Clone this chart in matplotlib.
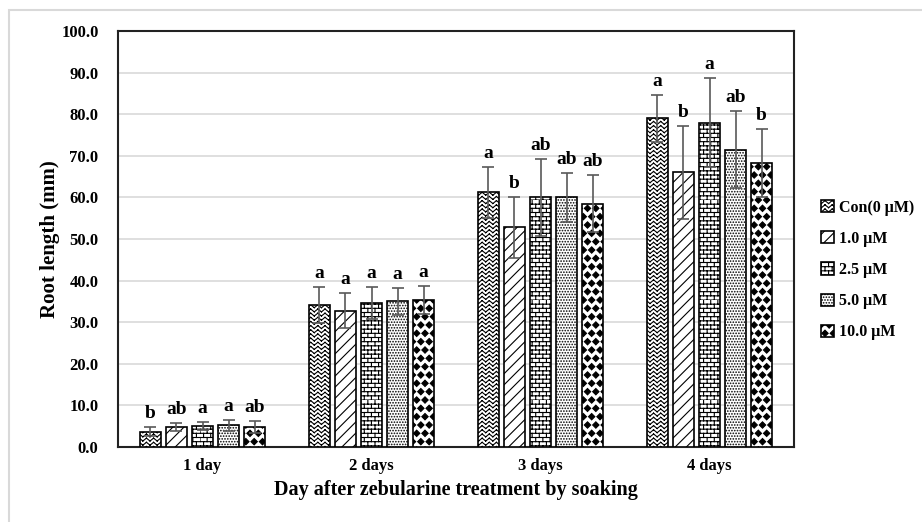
import matplotlib
matplotlib.use("Agg")
import matplotlib.pyplot as plt
import matplotlib.hatch as mhatch
from matplotlib.path import Path
import numpy as np
from matplotlib.patches import Rectangle

plt.rcParams['font.family'] = ['Liberation Serif', 'DejaVu Serif']
plt.rcParams['hatch.linewidth'] = 0.8

days = ["1 day", "2 days", "3 days", "4 days"]
series = ["Con(0 \u03bcM)", "1.0 \u03bcM", "2.5 \u03bcM", "5.0 \u03bcM", "10.0 \u03bcM"]
means = {
    "Con(0 \u03bcM)": [3.7, 34.2, 61.2, 79.0],
    "1.0 \u03bcM": [4.8, 32.8, 52.8, 66.0],
    "2.5 \u03bcM": [5.0, 34.6, 60.0, 78.0],
    "5.0 \u03bcM": [5.2, 35.0, 60.0, 71.5],
    "10.0 \u03bcM": [4.8, 35.3, 58.5, 68.2],
}
errors = {
    "Con(0 \u03bcM)": [1.0, 4.3, 6.2, 5.6],
    "1.0 \u03bcM": [0.9, 4.2, 7.3, 11.2],
    "2.5 \u03bcM": [1.0, 3.9, 9.2, 10.6],
    "5.0 \u03bcM": [1.3, 3.2, 5.8, 9.3],
    "10.0 \u03bcM": [1.5, 3.4, 6.8, 8.2],
}
letters = {
    "Con(0 \u03bcM)": ["b", "a", "a", "a"],
    "1.0 \u03bcM": ["ab", "a", "b", "b"],
    "2.5 \u03bcM": ["a", "a", "ab", "a"],
    "5.0 \u03bcM": ["a", "a", "ab", "ab"],
    "10.0 \u03bcM": ["ab", "a", "ab", "b"],
}


# ---- custom hatch patterns (Excel-like) ----
class ZigZagHatch(mhatch.HatchPatternBase):
    """'z': wavy horizontal lines drawn as separate segments."""
    def __init__(self, hatch, density):
        self.num_lines = int(hatch.count('z') * density)
        self.teeth = 14
        self.num_vertices = self.num_lines * self.teeth * 2 * 2

    def set_vertices_and_codes(self, vertices, codes):
        n, k = self.num_lines, self.teeth
        amp = 0.35 / n
        idx = 0
        for i in range(n):
            y = (i + 0.5) / n
            xs = np.linspace(0, 1, 2 * k + 1)
            ys = np.array([y + (amp if j % 2 else -amp) for j in range(2 * k + 1)])
            for j in range(2 * k):
                vertices[idx] = (xs[j], ys[j])
                vertices[idx + 1] = (xs[j + 1], ys[j + 1])
                codes[idx] = Path.MOVETO
                codes[idx + 1] = Path.LINETO
                idx += 2


class BrickHatch(mhatch.HatchPatternBase):
    """'b': horizontal bricks."""
    def __init__(self, hatch, density):
        n = int(hatch.count('b') * density)
        if n % 2:
            n += 1
        self.num_lines = n
        self.cols = max(1, int(round(n * 0.6)))
        self.num_vertices = (2 * n + 2 * n * self.cols) if n else 0

    def set_vertices_and_codes(self, vertices, codes):
        n, m = self.num_lines, self.cols
        idx = 0
        for i in range(n):
            y = i / n
            vertices[idx] = (0, y)
            vertices[idx + 1] = (1, y)
            codes[idx] = Path.MOVETO
            codes[idx + 1] = Path.LINETO
            idx += 2
        for i in range(n):
            y0, y1 = i / n, (i + 1) / n
            off = 0.5 * (i % 2)
            for j in range(m):
                xx = (j + off) / m
                vertices[idx] = (xx, y0)
                vertices[idx + 1] = (xx, y1)
                codes[idx] = Path.MOVETO
                codes[idx + 1] = Path.LINETO
                idx += 2


class FilledDiamonds(mhatch.Shapes):
    """'d': black filled diamonds."""
    filled = True
    size = 0.38

    def __init__(self, hatch, density):
        self.num_rows = int(hatch.count('d') * density)
        self.shape_vertices = np.array([[0, 1], [1, 0], [0, -1], [-1, 0], [0, 1]], float)
        self.shape_codes = np.array([Path.MOVETO, Path.LINETO, Path.LINETO,
                                     Path.LINETO, Path.CLOSEPOLY], dtype=Path.code_type)
        super().__init__(hatch, density)


mhatch._hatch_types.extend([ZigZagHatch, BrickHatch, FilledDiamonds])
mhatch._validate_hatch_pattern = lambda h: None

hatches = ["zzzz", "///", "bbbb", "......", "dd"]

fig = plt.figure(figsize=(9.22, 5.22), dpi=100)
fig.patches.append(Rectangle((9/922, -0.1), 1.2, (512/522) + 0.1, transform=fig.transFigure,
                             fill=False, edgecolor='#d9d9d9', linewidth=1.5))
ax = fig.add_axes([118/922, 1-447/522, 676/922, 416/522])

x = np.arange(len(days))
step = 0.154
width = 0.125
for i, s in enumerate(series):
    pos = x + (i - 2) * step
    ax.bar(pos, means[s], width, facecolor='white', edgecolor='black', hatch=hatches[i],
           linewidth=1.2, label=s, zorder=3)
    ax.errorbar(pos, means[s], yerr=errors[s], fmt='none', ecolor='#595959',
                elinewidth=1.2, capsize=4, capthick=1.2, zorder=4)
    for p, m, e, l in zip(pos, means[s], errors[s], letters[s]):
        ax.text(p, m + e + 1.2, l, ha='center', va='bottom', fontsize=14,
                fontweight='bold', zorder=5)

ax.set_xlim(-0.5, 3.5)
ax.set_ylim(0, 100)
ax.set_yticks(np.arange(0, 101, 10))
ax.set_yticklabels([f"{v:.1f}" for v in np.arange(0, 101, 10)], fontsize=12, fontweight='bold')
ax.set_xticks(x)
ax.set_xticklabels(days, fontsize=12, fontweight='bold')
ax.tick_params(axis='y', length=0, pad=14)
ax.tick_params(axis='x', length=0, pad=8)
ax.grid(axis='y', color='#d9d9d9', linewidth=1.2, zorder=0)
ax.set_axisbelow(True)
for sp in ax.spines.values():
    sp.set_linewidth(1.5)
    sp.set_color('#222222')
ax.set_ylabel("Root length (mm)", fontsize=15, fontweight='bold', labelpad=1)
ax.set_xlabel("Day after zebularine treatment by soaking", fontsize=14.5, fontweight='bold', labelpad=4)

leg = fig.legend(loc='center left', bbox_to_anchor=(807/922, 1-270/522), frameon=False,
                 prop={'weight': 'bold', 'size': 11.5}, handlelength=0.8, handleheight=0.8,
                 handletextpad=0.3, labelspacing=0.95)

fig.savefig("out.png", dpi=100)
